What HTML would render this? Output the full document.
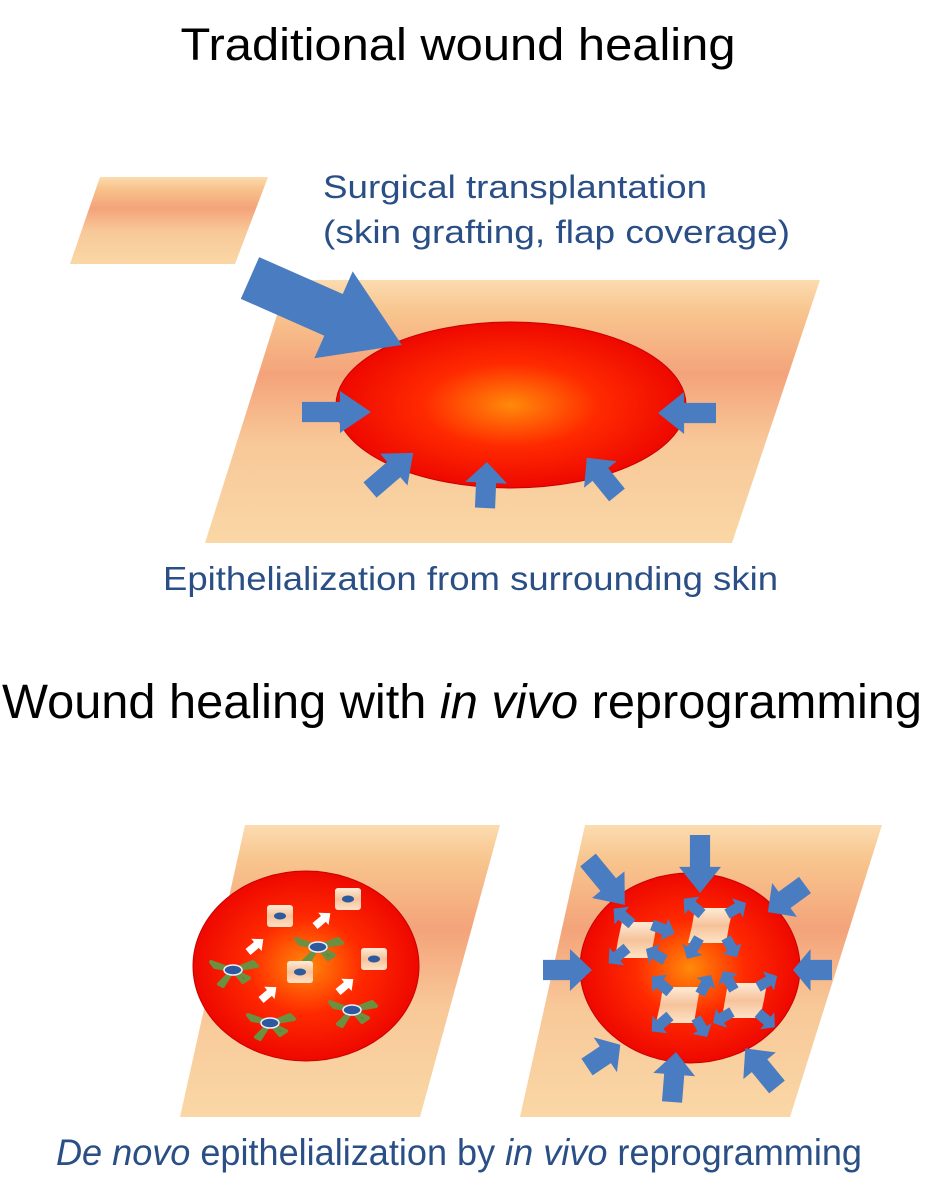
<!DOCTYPE html>
<html><head><meta charset="utf-8"><style>
html,body{margin:0;padding:0;background:#fff;}
svg{display:block;}
</style></head><body>
<svg width="925" height="1197" viewBox="0 0 925 1197" xmlns="http://www.w3.org/2000/svg">
<defs>
<linearGradient id="skin" x1="0" y1="0" x2="0" y2="1">
<stop offset="0" stop-color="#fbdcb0"/><stop offset="0.12" stop-color="#f8c58e"/>
<stop offset="0.36" stop-color="#f4a37a"/><stop offset="0.62" stop-color="#f8c898"/>
<stop offset="1" stop-color="#fad7a6"/></linearGradient>
<radialGradient id="wound" cx="0.5" cy="0.5" r="0.5">
<stop offset="0" stop-color="#ff8a0a"/><stop offset="0.5" stop-color="#ff2a00"/>
<stop offset="1" stop-color="#ee0800"/></radialGradient>
<linearGradient id="cell" x1="0" y1="0" x2="0" y2="1">
<stop offset="0" stop-color="#fdebd6"/><stop offset="0.5" stop-color="#f6c29a"/><stop offset="1" stop-color="#fde3c6"/></linearGradient>
<path id="ar" d="M0,-0.24 L0.55,-0.24 L0.55,-0.5 L1,0 L0.55,0.5 L0.55,0.24 L0,0.24Z"/>
<g id="stel">
<path d="M0,0 L-22,-8 L-18,-3 Z M0,0 L20,-8 L24,-4 Z M0,0 L-14,14 L-10,16 Z M0,0 L16,8 L10,12Z" fill="#5f8238" stroke="#6c9040" stroke-width="4" stroke-linejoin="round"/>
<ellipse cx="0" cy="0" rx="9" ry="5" fill="#2d5a9d" stroke="#eef" stroke-width="1.5"/>
</g>
<g id="sq">
<rect x="-13" y="-11" width="26" height="22" rx="3" fill="url(#cell)"/>
<ellipse cx="0" cy="0" rx="6" ry="3.5" fill="#2d5a9d"/>
</g>
</defs>

<text x="458" y="60" font-family="Liberation Sans, sans-serif" font-size="45" text-anchor="middle" textLength="555" lengthAdjust="spacingAndGlyphs">Traditional wound healing</text>

<polygon points="100,177 268,177 235,264 70,264" fill="url(#skin)"/>
<polygon points="288,280 820,280 732,543 205,543" fill="url(#skin)"/>
<ellipse cx="511" cy="405" rx="175" ry="83" fill="url(#wound)" stroke="#c80000" stroke-width="1"/>

<g fill="#4a7cc2">
<use href="#ar" transform="translate(250,278) rotate(23.8) scale(166,95)"/>
<use href="#ar" transform="translate(302,412) scale(69,42)"/>
<use href="#ar" transform="translate(716,413) rotate(180) scale(58,42)"/>
<use href="#ar" transform="translate(370,490) rotate(-40.7) scale(57,42)"/>
<use href="#ar" transform="translate(485,508) rotate(-87.5) scale(46,42)"/>
<use href="#ar" transform="translate(617,495) rotate(-129) scale(48,42)"/>
</g>

<text x="323" y="198" font-family="Liberation Sans, sans-serif" font-size="32" fill="#2a4f86" textLength="384" lengthAdjust="spacingAndGlyphs">Surgical transplantation</text>
<text x="323" y="243" font-family="Liberation Sans, sans-serif" font-size="32" fill="#2a4f86" textLength="467" lengthAdjust="spacingAndGlyphs">(skin grafting, flap coverage)</text>
<text x="163" y="590" font-family="Liberation Sans, sans-serif" font-size="33" fill="#2a4f86" textLength="615" lengthAdjust="spacingAndGlyphs">Epithelialization from surrounding skin</text>

<text x="2" y="718" font-family="Liberation Sans, sans-serif" font-size="48" textLength="920" lengthAdjust="spacingAndGlyphs">Wound healing with <tspan font-style="italic">in vivo</tspan> reprogramming</text>

<polygon points="245,825 500,825 420,1117 180,1117" fill="url(#skin)"/>
<ellipse cx="306" cy="966" rx="113" ry="95" fill="url(#wound)" stroke="#c80000" stroke-width="1"/>
<use href="#stel" transform="translate(318,947)"/>
<use href="#stel" transform="translate(233,970)"/>
<use href="#stel" transform="translate(270,1023)"/>
<use href="#stel" transform="translate(352,1010)"/>
<use href="#sq" transform="translate(280,916)"/>
<use href="#sq" transform="translate(348,899)"/>
<use href="#sq" transform="translate(300,972)"/>
<use href="#sq" transform="translate(374,959)"/>
<g fill="#fff">
<use href="#ar" transform="translate(248,952) rotate(-40) scale(20,16)"/>
<use href="#ar" transform="translate(315,926) rotate(-40) scale(20,16)"/>
<use href="#ar" transform="translate(261,1000) rotate(-40) scale(20,16)"/>
<use href="#ar" transform="translate(338,992) rotate(-40) scale(20,16)"/>
</g>

<polygon points="585,825 882,825 790,1117 520,1117" fill="url(#skin)"/>
<ellipse cx="690" cy="968" rx="110" ry="95" fill="url(#wound)" stroke="#c80000" stroke-width="1"/>
<g fill="url(#cell)">
<polygon points="622,922 657,922 654,940 650,958 615,958 618,940"/>
<polygon points="695,908 733,908 729,926 726,943 688,943 692,926"/>
<polygon points="663,987 700,987 697,1005 694,1023 656,1023 660,1005"/>
<polygon points="728,983 767,983 764,1000 760,1018 722,1018 725,1000"/>
</g>
<g fill="#4a7cc2">
<use href="#ar" transform="translate(700,835) rotate(90) scale(58,42)"/>
<use href="#ar" transform="translate(588,860) rotate(50.6) scale(58,42)"/>
<use href="#ar" transform="translate(805,885) rotate(143.9) scale(46,42)"/>
<use href="#ar" transform="translate(543,970) scale(49,42)"/>
<use href="#ar" transform="translate(832,970) rotate(180) scale(39,42)"/>
<use href="#ar" transform="translate(587,1067) rotate(-33.7) scale(40,42)"/>
<use href="#ar" transform="translate(672,1102) rotate(-85.4) scale(50,42)"/>
<use href="#ar" transform="translate(777,1087) rotate(-129.4) scale(50,42)"/>
<use href="#ar" transform="translate(632,924) rotate(-140) scale(24,23)"/>
<use href="#ar" transform="translate(652,925) rotate(20) scale(24,23)"/>
<use href="#ar" transform="translate(627,948) rotate(140) scale(24,23)"/>
<use href="#ar" transform="translate(665,960) rotate(-150) scale(22,22)"/>
<use href="#ar" transform="translate(702,914) rotate(-140) scale(24,23)"/>
<use href="#ar" transform="translate(727,914) rotate(-30) scale(22,22)"/>
<use href="#ar" transform="translate(699,938) rotate(120) scale(24,23)"/>
<use href="#ar" transform="translate(726,938) rotate(60) scale(22,22)"/>
<use href="#ar" transform="translate(670,992) rotate(-140) scale(24,23)"/>
<use href="#ar" transform="translate(700,994) rotate(-60) scale(22,22)"/>
<use href="#ar" transform="translate(670,1016) rotate(140) scale(24,23)"/>
<use href="#ar" transform="translate(696,1018) rotate(60) scale(22,22)"/>
<use href="#ar" transform="translate(734,990) rotate(-120) scale(22,22)"/>
<use href="#ar" transform="translate(758,987) rotate(-30) scale(22,22)"/>
<use href="#ar" transform="translate(732,1012) rotate(150) scale(22,22)"/>
<use href="#ar" transform="translate(758,1013) rotate(40) scale(22,22)"/>
</g>

<text x="56" y="1165" font-family="Liberation Sans, sans-serif" font-size="37" fill="#2a4f86" textLength="806" lengthAdjust="spacingAndGlyphs"><tspan font-style="italic">De novo</tspan> epithelialization by <tspan font-style="italic">in vivo</tspan> reprogramming</text>
</svg>
</body></html>
